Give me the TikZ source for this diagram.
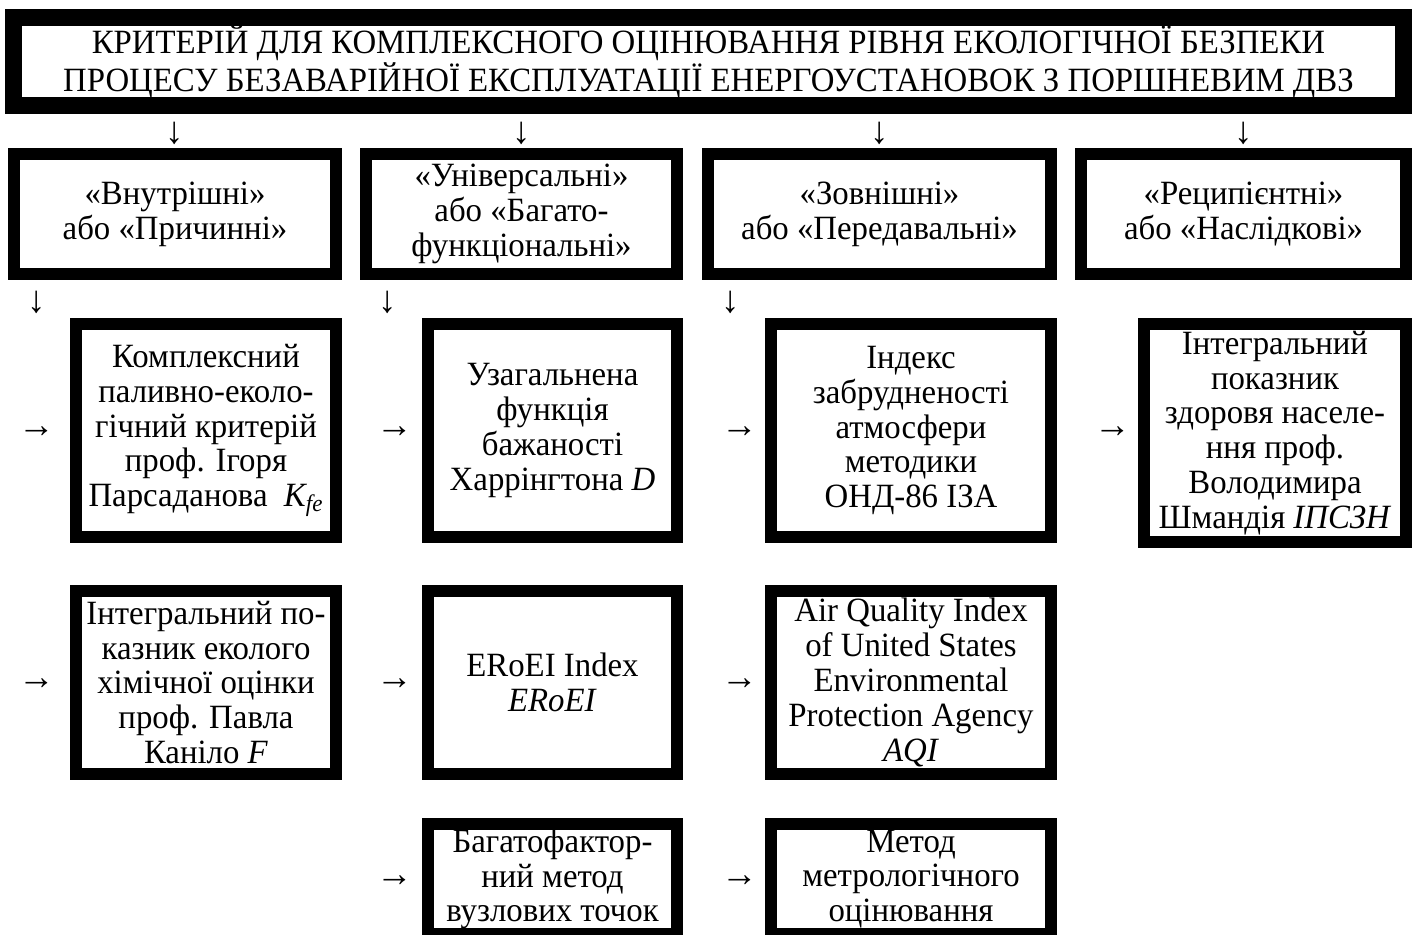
\documentclass[tikz,border=0pt]{standalone}
\usepackage{fontspec}
\setmainfont[FakeStretch=0.965]{Liberation Serif}
\tikzset{
  frame/.style={draw, line width=6pt, align=center, inner sep=0pt,
    font=\fontsize{17}{17.4}\selectfont},
  box/.style 2 args={frame, minimum width=#1, minimum height=#2},
  sign/.style={inner sep=0pt, font=\fontsize{19}{19}\selectfont},
}
\begin{document}
\begin{tikzpicture}[x=0.5pt,y=-0.5pt]
    \useasboundingbox (0,0) rectangle (1416,935);
    %title
    \node[box={695pt}{44pt}, line width=8.5pt, font=\fontsize{17}{17}\selectfont]
      (title) at (708.5,61.5)
      {КРИТЕРІЙ ДЛЯ КОМПЛЕКСНОГО ОЦІНЮВАННЯ РІВНЯ ЕКОЛОГІЧНОЇ БЕЗПЕКИ\\
       ПРОЦЕСУ БЕЗАВАРІЙНОЇ ЕКСПЛУАТАЦІЇ ЕНЕРГОУСТАНОВОК З ПОРШНЕВИМ ДВЗ};
    %groups
    \node[box={161pt}{60pt}] (inner) at (175,214)
      {«Внутрішні»\\або «Причинні»};
    \node[box={155.5pt}{60pt}] (univ) at (521.5,214)
      {«Універсальні»\\або «Багато-\\функціональні»};
    \node[box={171.5pt}{60pt}] (outer) at (879.5,214)
      {«Зовнішні»\\або «Передавальні»};
    \node[box={162.5pt}{60pt}] (recip) at (1243.5,214)
      {«Реципієнтні»\\або «Наслідкові»};
    %arrows under title
    \node[sign] (dinner) at (175,133) {↓};
    \node[sign] (duniv) at (521.5,133) {↓};
    \node[sign] (douter) at (879.5,133) {↓};
    \node[sign] (drecip) at (1243.5,133) {↓};
    %arrows under groups
    \node[sign] (sinner) at (37,302) {↓};
    \node[sign] (suniv) at (388,302) {↓};
    \node[sign] (souter) at (731,302) {↓};
    %second row
    \node[box={130pt}{106.5pt}] (kfe) at (206,430.5)
      {Комплексний\\паливно-еколо-\\гічний критерій\\проф. Ігоря\\Парсаданова\ \ \textit{K\textsubscript{fe}}};
    \node[box={124.5pt}{106.5pt}] (harr) at (552.5,430.5)
      {Узагальнена\\функція\\бажаності\\Харрінгтона \textit{D}};
    \node[box={140pt}{106.5pt}] (iza) at (911,430.5)
      {Індекс\\забрудненості\\атмосфери\\методики\\ОНД-86 ІЗА};
    \node[box={131pt}{109pt}] (ipszn) at (1275,433)
      {Інтегральний\\показник\\здоровя населе-\\ння проф.\\Володимира\\Шмандія \textit{ІПСЗН}};
    \node[sign] (rkfe) at (37,432) {→};
    \node[sign] (rharr) at (395,432) {→};
    \node[sign] (riza) at (740,432) {→};
    \node[sign] (ripszn) at (1113,432) {→};
    %third row
    \node[box={130pt}{91.5pt}] (kanilo) at (206,682.5)
      {Інтегральний по-\\казник еколого\\хімічної оцінки\\проф. Павла\\Каніло \textit{F}};
    \node[box={124.5pt}{91.5pt}] (eroei) at (552.5,682.5)
      {ERoEI Index\\\textit{ERoEI}};
    \node[box={140pt}{91.5pt}] (aqi) at (911,682.5)
      {Air Quality Index\\of United States\\Environmental\\Protection Agency\\\textit{AQI}};
    \node[sign] (rkanilo) at (37,684) {→};
    \node[sign] (reroei) at (395,684) {→};
    \node[sign] (raqi) at (740,684) {→};
    %fourth row
    \node[box={124.5pt}{55pt}] (nodal) at (552.5,879)
      {Багатофактор-\\ний метод\\вузлових точок};
    \node[box={140pt}{55pt}] (metro) at (911,879)
      {Метод\\метрологічного\\оцінювання};
    \node[sign] (rnodal) at (395,881) {→};
    \node[sign] (rmetro) at (740,881) {→};
\end{tikzpicture}
\end{document}
